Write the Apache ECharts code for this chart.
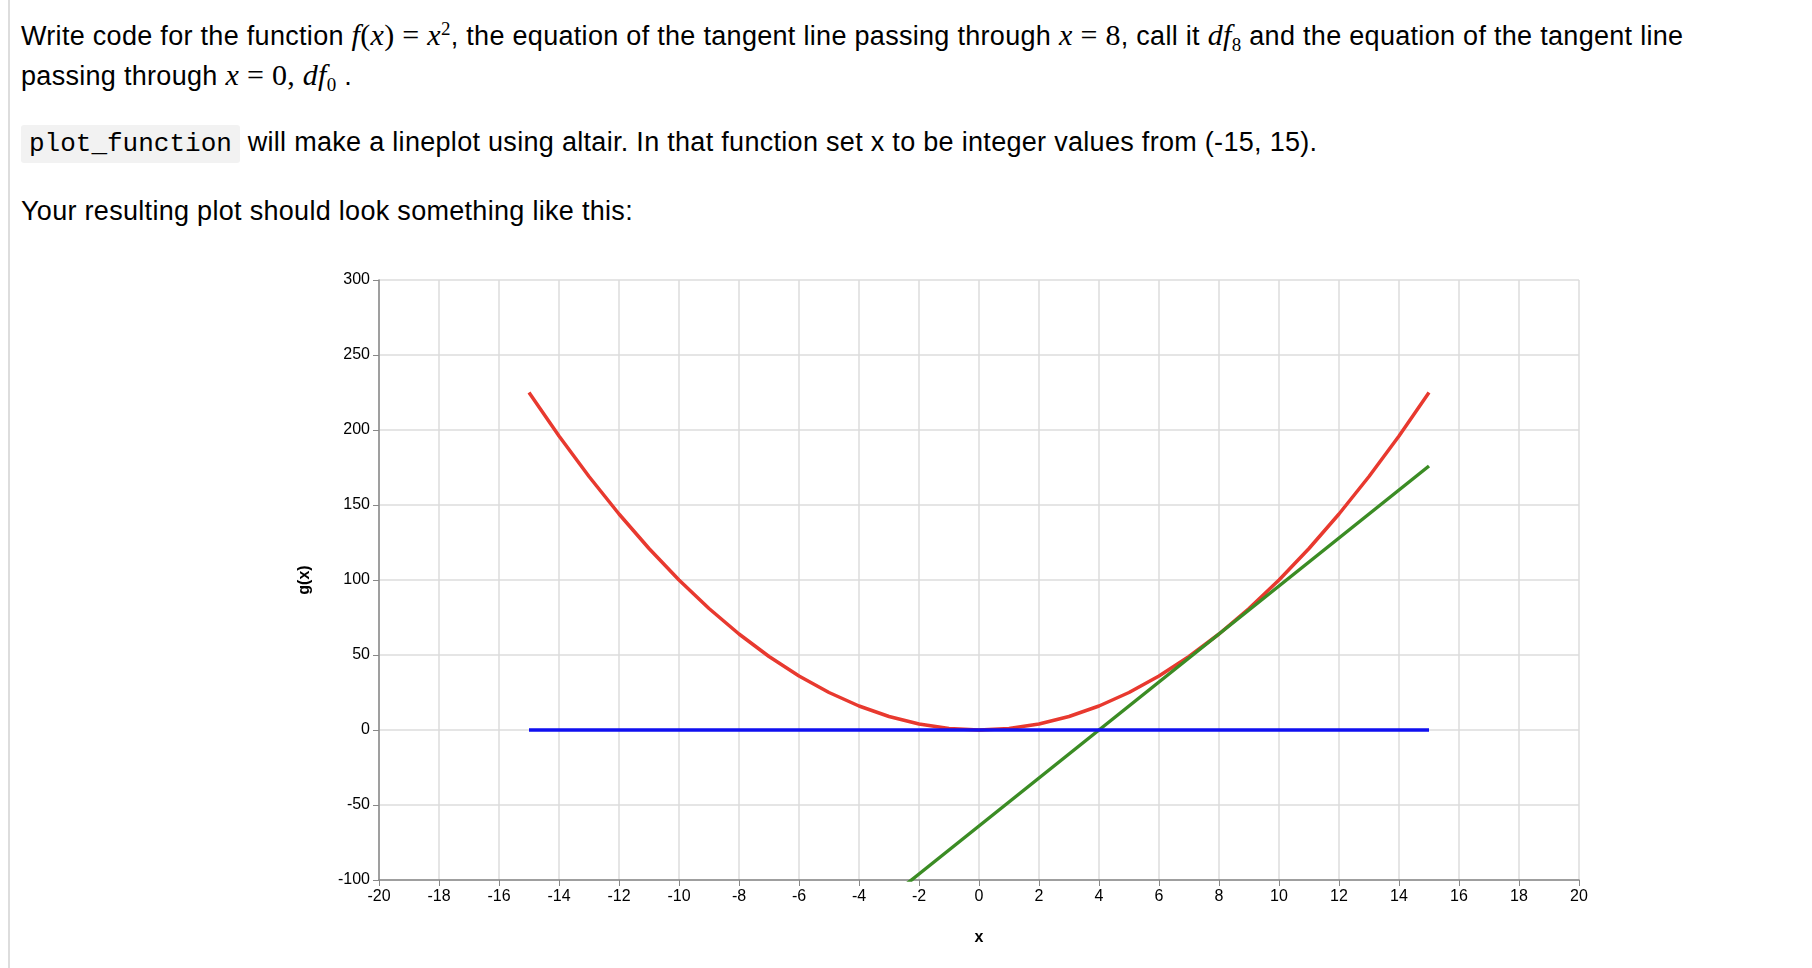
<!DOCTYPE html>
<html><head><meta charset="utf-8">
<script src="https://cdn.jsdelivr.net/npm/echarts@6/dist/echarts.min.js"></script>
<style>
body{margin:0;width:1812px;height:968px;background:#fff;font-family:"Liberation Sans",Arial,sans-serif;color:#000;position:relative;overflow:hidden}
#bar{position:absolute;left:8px;top:0;width:2px;height:968px;background:#ddd}
.t{position:absolute;left:21px;font-size:27px;letter-spacing:0.3px;white-space:nowrap}
.m{font-family:"Liberation Serif","DejaVu Serif",serif;font-style:italic;font-size:30px}
.n{font-family:"Liberation Serif","DejaVu Serif",serif;font-size:30px}
code{font-family:"Liberation Mono","DejaVu Sans Mono",monospace;font-size:26px;background:#f2f2f2;padding:4px 8px;border-radius:3px;letter-spacing:0}
#c{position:absolute;left:0;top:0;width:1812px;height:968px}
</style></head><body>
<div id="bar"></div>
<div class="t" style="top:18px">Write code for the function <span class="m">f</span><span class="n">(</span><span class="m">x</span><span class="n">) = </span><span class="m">x</span><sup class="n" style="font-size:19px">2</sup>, the equation of the tangent line passing through <span class="m">x</span> <span class="n">= 8</span>, call it <span class="m">df</span><sub class="n" style="font-size:19px">8</sub> and the equation of the tangent line</div>
<div class="t" style="top:58px">passing through <span class="m">x</span> <span class="n">= 0, </span><span class="m">df</span><sub class="n" style="font-size:19px">0</sub> .</div>
<div class="t" style="top:127px;left:21px"><code>plot_function</code> will make a lineplot using altair. In that function set x to be integer values from (-15, 15).</div>
<div class="t" style="top:196px">Your resulting plot should look something like this:</div>
<div id="c"></div>
<script>
const xs=[-15,-14,-13,-12,-11,-10,-9,-8,-7,-6,-5,-4,-3,-2,-1,0,1,2,3,4,5,6,7,8,9,10,11,12,13,14,15];
const fVals=[225,196,169,144,121,100,81,64,49,36,25,16,9,4,1,0,1,4,9,16,25,36,49,64,81,100,121,144,169,196,225];
const df8Vals=[-304,-288,-272,-256,-240,-224,-208,-192,-176,-160,-144,-128,-112,-96,-80,-64,-48,-32,-16,0,16,32,48,64,80,96,112,128,144,160,176];
const df0Vals=[0,0,0,0,0,0,0,0,0,0,0,0,0,0,0,0,0,0,0,0,0,0,0,0,0,0,0,0,0,0,0];
const pair=v=>xs.map((x,i)=>[x,v[i]]);
const ch=echarts.init(document.getElementById('c'));
const ax={axisLine:{show:true,onZero:false,lineStyle:{color:'#888',width:1.5}},axisTick:{show:true,length:6,lineStyle:{color:'#888'}},
 axisLabel:{color:'#000',fontSize:16,margin:9,fontFamily:'Liberation Sans'},splitLine:{show:true,lineStyle:{color:'#ddd',width:1.5}},
 nameTextStyle:{fontWeight:'bold',fontSize:16,color:'#000',fontFamily:'Liberation Sans'}};
const ln=(d,c)=>({type:'line',data:d,showSymbol:false,clip:true,lineStyle:{color:c,width:3.5},itemStyle:{color:c},animation:false});
ch.setOption({
 grid:{left:379,top:280,width:1200,height:600},
 xAxis:Object.assign({type:'value',min:-20,max:20,interval:2,name:'x',nameLocation:'middle',nameGap:50},ax),
 yAxis:Object.assign({type:'value',min:-100,max:300,interval:50,name:'g(x)',nameLocation:'middle',nameGap:66},ax),
 series:[ln(pair(fVals),'#e8392f'),ln(pair(df8Vals),'#3b8c24'),ln(pair(df0Vals),'#1010f0')]
});
</script></body></html>
